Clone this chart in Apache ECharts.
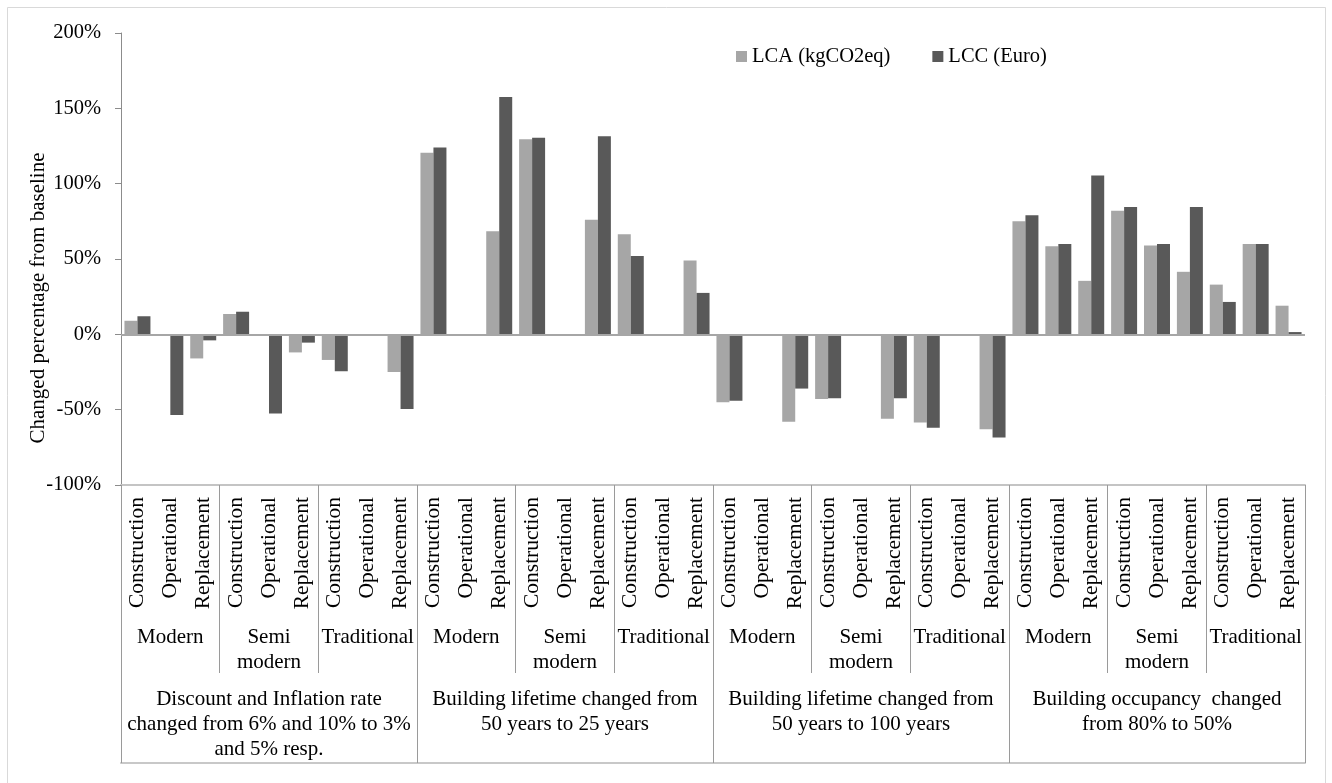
<!DOCTYPE html>
<html>
<head>
<meta charset="utf-8">
<title>Sensitivity of LCA and LCC results</title>
<script src="https://cdn.jsdelivr.net/npm/echarts@6/dist/echarts.min.js"></script>
<style>
  html, body { margin: 0; padding: 0; background: #ffffff; }
  #chart { width: 1332px; height: 783px; }
</style>
</head>
<body>
<div id="chart"></div>
<script>
// Life-cycle phases, repeated under every building type
const phases = ['Construction', 'Operational', 'Replacement'];
// Building types, repeated under every scenario
const buildingTypes = ['Modern', 'Semi\nmodern', 'Traditional'];
// Sensitivity scenarios
const scenarios = [
  'Discount and Inflation rate\nchanged from 6% and 10% to 3%\nand 5% resp.',
  'Building lifetime changed from\n50 years to 25 years',
  'Building lifetime changed from\n50 years to 100 years',
  'Building occupancy  changed\nfrom 80% to 50%'
];
// Y-axis tick values (%)
const yTicks = { min: -100, max: 200, step: 50 };

// Change from baseline (%), LCA (kgCO2eq) — scenario by scenario
const lcaValues = [
  9, 0, -16,   13.5, 0, -12,   -17, 0, -25,
  120.5, 0, 68.5,   129.5, 0, 76,   66.5, 0, 49,
  -45, 0, -58,   -43, 0, -56,   -58.5, 0, -63,
  75, 58.5, 35.5,   82, 59, 41.5,   33, 60, 19
];
// Change from baseline (%), LCC (Euro)
const lccValues = [
  12, -53.5, -4,   15, -52.5, -5.5,   -24.5, 0, -49.5,
  124, 0, 157.5,   130.5, 0, 131.5,   52, 0, 27.5,
  -44, 0, -36,   -42.5, 0, -42.5,   -62, 0, -68.5,
  79, 60, 105.5,   84.5, 60, 84.5,   21.5, 60, 1.5
];

// Expanded category lists for the three label rows
const phaseCats = [];
const typeCats = [];
scenarios.forEach(() => {
  buildingTypes.forEach(t => {
    typeCats.push(t);
    phases.forEach(p => phaseCats.push(p));
  });
});

const FONT = 'Liberation Serif, Times New Roman, serif';
const chart = echarts.init(document.getElementById('chart'), null, { renderer: 'canvas' });

const label = size => ({ fontFamily: FONT, fontSize: size, color: '#000' });

chart.setOption({
  animation: false,
  backgroundColor: '#ffffff',
  textStyle: { fontFamily: FONT },
  graphic: [
    {
      type: 'rect',
      shape: { x: 7.5, y: 7.5, width: 1318, height: 790 },
      style: { fill: 'none', stroke: '#d9d9d9', lineWidth: 1 },
      silent: true
    },
    {
      // value axis title
      type: 'text',
      x: 38,
      y: 298,
      rotation: Math.PI / 2,
      silent: true,
      style: {
        text: 'Changed percentage from baseline',
        font: '21px ' + FONT,
        fill: '#000',
        align: 'center',
        verticalAlign: 'middle'
      }
    }
  ],
  legend: {
    left: 731,
    top: 41,
    itemWidth: 11,
    itemHeight: 11,
    itemGap: 42,
    icon: 'rect',
    textStyle: label(20.5),
    data: ['LCA (kgCO2eq)', 'LCC (Euro)']
  },
  grid: { left: 121, right: 27, top: 33, bottom: 298, containLabel: false },
  xAxis: [
    {
      type: 'category',
      data: phaseCats,
      position: 'bottom',
      axisLine: { onZero: false, lineStyle: { color: '#c4c4c4', width: 2 } },
      axisTick: { show: false },
      axisLabel: Object.assign({ interval: 0, rotate: 90, margin: 12 }, label(21.5))
    },
    {
      type: 'category',
      data: typeCats,
      position: 'bottom',
      axisLine: { show: false, onZero: false },
      axisTick: { show: true, interval: 0, length: 188, lineStyle: { color: '#9a9a9a', width: 1 } },
      axisLabel: Object.assign({ interval: 0, margin: 140, lineHeight: 25 }, label(21))
    },
    {
      type: 'category',
      data: scenarios,
      position: 'bottom',
      axisLine: { show: false, onZero: false },
      axisTick: { show: true, interval: 0, length: 278, lineStyle: { color: '#9a9a9a', width: 1 } },
      axisLabel: Object.assign({ interval: 0, margin: 202, lineHeight: 25 }, label(21))
    },
    {
      type: 'category',
      data: scenarios,
      position: 'bottom',
      offset: 278,
      axisLine: { show: true, onZero: false, lineStyle: { color: '#c8c8c8', width: 2 } },
      axisTick: { show: false },
      axisLabel: { show: false }
    }
  ],
  yAxis: {
    type: 'value',
    min: yTicks.min,
    max: yTicks.max,
    interval: yTicks.step,
    axisLine: { show: true, lineStyle: { color: '#8c8c8c', width: 1 } },
    axisTick: { show: true, length: 6, lineStyle: { color: '#8c8c8c' } },
    splitLine: { show: false },
    axisLabel: Object.assign({ margin: 20, formatter: '{value}%' }, label(20.5))
  },
  series: [
    {
      name: 'LCA (kgCO2eq)',
      type: 'bar',
      data: lcaValues,
      barGap: '0%',
      barCategoryGap: '21%',
      itemStyle: { color: '#a6a6a6' },
      markLine: {
        silent: true,
        symbol: 'none',
        label: { show: false },
        lineStyle: { color: '#a6a6a6', width: 2, type: 'solid' },
        data: [{ yAxis: 0 }]
      }
    },
    {
      name: 'LCC (Euro)',
      type: 'bar',
      data: lccValues,
      barGap: '0%',
      barCategoryGap: '21%',
      itemStyle: { color: '#595959' }
    }
  ]
});
</script>
</body>
</html>
